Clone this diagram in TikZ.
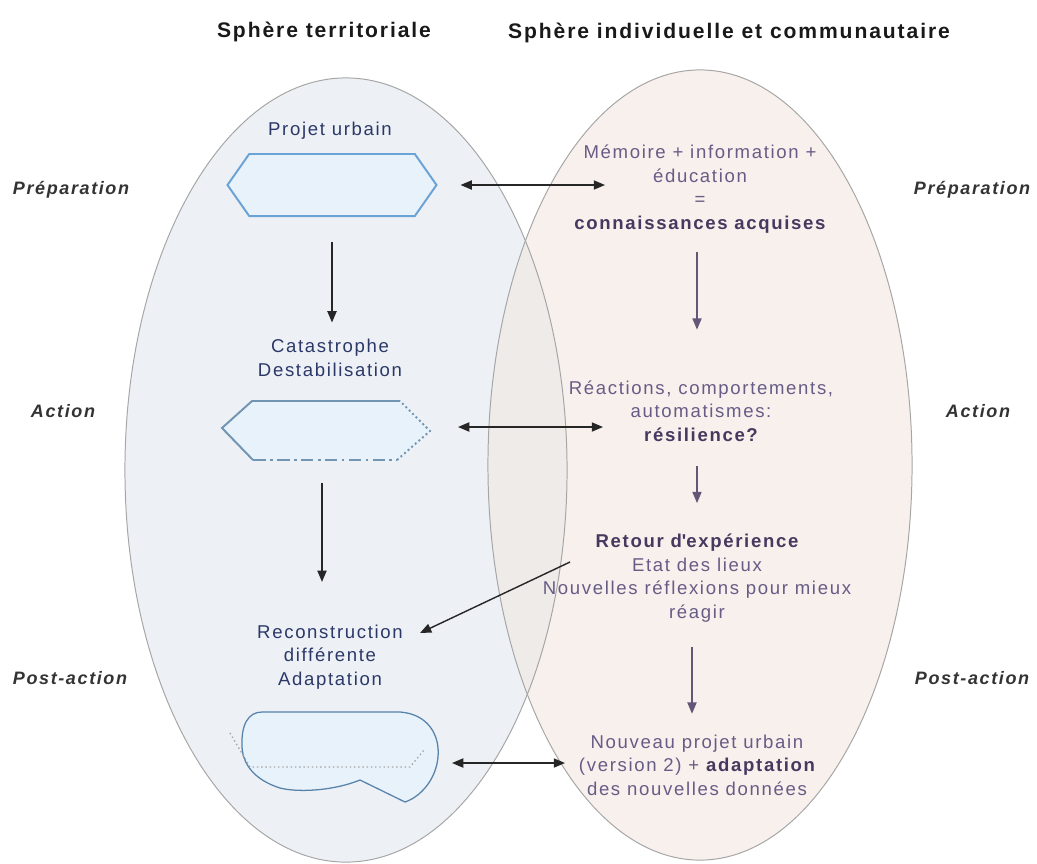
\documentclass[tikz,border=0pt]{standalone}
\usepackage{fontspec}
\setmainfont{Liberation Sans}[LetterSpace=9]
\usetikzlibrary{positioning,shapes.symbols,arrows.meta}
\definecolor{terrText}{HTML}{2B3868}
\definecolor{commText}{HTML}{675C86}
\definecolor{commBold}{HTML}{46395F}
\definecolor{leftFill}{HTML}{EDF1F5}
\definecolor{rightFill}{HTML}{F8F0EC}
\definecolor{midFill}{HTML}{EEEBE9}
\definecolor{hexLine}{HTML}{6BA3D6}
\definecolor{hexFill}{HTML}{E8F2FA}
\definecolor{phaseText}{HTML}{333333}
\tikzset{
  sphere/.style={draw=gray!70,line width=0.7pt},
  lefttxt/.style={text=terrText,align=center,font=\fontsize{13.2}{16.7}\selectfont},
  righttxt/.style={text=commText,align=center,font=\fontsize{13.2}{16.7}\selectfont},
  phase/.style={text=phaseText,font=\fontsize{12.8}{15}\selectfont\bfseries\itshape},
  title/.style={text=black!90,font=\fontsize{15}{18}\selectfont\bfseries},
  hexbox/.style={shape=signal,signal to=east and west,signal pointer angle=110,
    draw=hexLine,fill=hexFill,line width=1.4pt,inner sep=0pt},
  link/.style={->,black!85,line width=1pt},
  dlink/.style={<->,black!85,line width=1pt},
  plink/.style={->,commBold!85,line width=1pt}
}
\newcommand{\cb}[1]{\textcolor{commBold}{\bfseries #1}}

\begin{document}
\begin{tikzpicture}[x=0.025cm,y=-0.025cm,>={Triangle[length=8pt,width=6.5pt]}]
  \useasboundingbox (0,0) rectangle (1037,863);
  % the two spheres and their overlap
  \fill[leftFill] (346,470) ellipse [x radius=5.525cm,y radius=9.8cm];
  \fill[rightFill] (700,465) ellipse [x radius=5.3cm,y radius=9.875cm];
  \begin{scope}
    \clip (346,470) ellipse [x radius=5.525cm,y radius=9.8cm];
    \fill[midFill] (700,465) ellipse [x radius=5.3cm,y radius=9.875cm];
  \end{scope}
  \draw[sphere] (346,470) ellipse [x radius=5.525cm,y radius=9.8cm];
  \draw[sphere] (700,465) ellipse [x radius=5.3cm,y radius=9.875cm];

  \node[title] (tTerr) at (324,32) {Sphère territoriale};
  \node[title] (tComm) at (729,33) {Sphère individuelle et communautaire};

  % phases, both sides
  \node[phase] (pPrepL) at (71,190) {Préparation};
  \node[phase] (pActL)  at (63,411) {Action};
  \node[phase] (pPostL) at (70,678) {Post-action};
  \node[phase] (pPrepR) at (972,190) {Préparation};
  \node[phase] (pActR)  at (978,411) {Action};
  \node[phase] (pPostR) at (972,678) {Post-action};

  % territorial column
  \node[lefttxt] (projet) at (330,131) {Projet urbain};
  \node[hexbox,minimum width=5.225cm,minimum height=1.55cm] (hexA) at (332,185) {};
  \node[lefttxt] (cata) at (330,358) {Catastrophe\\Destabilisation};
  \coordinate (hexBE) at (430,427);
  \fill[hexFill] (252,401) -- (400,401) -- (430,431)
    -- (397,460) -- (253,460) -- (222,428) -- cycle;
  \draw[hexLine!60!gray,line width=1.4pt] (400,401) -- (252,401) -- (222,428) -- (253,460);
  \draw[hexLine!60!gray,line width=1.4pt,dash pattern=on 9pt off 3pt on 2pt off 3pt]
    (253,460) -- (397,460);
  \draw[hexLine!60!gray,line width=1.4pt,dotted] (397,460) -- (430,431) -- (400,401);
  \node[lefttxt] (recon) at (330,657) {Reconstruction\\différente\\Adaptation};
  \fill[hexFill] (262,712) -- (400,712) .. controls (428,714) and (440,735) .. (438,757)
    .. controls (436,780) and (420,797) .. (405,802) -- (360,780)
    .. controls (330,792) and (295,792) .. (280,788)
    .. controls (255,780) and (243,765) .. (242,747)
    .. controls (241,725) and (248,712) .. (262,712) -- cycle;
  \draw[hexLine!80!black,line width=0.9pt] (262,712) -- (400,712) .. controls (428,714) and (440,735) .. (438,757)
    .. controls (436,780) and (420,797) .. (405,802) -- (360,780)
    .. controls (330,792) and (295,792) .. (280,788)
    .. controls (255,780) and (243,765) .. (242,747)
    .. controls (241,725) and (248,712) .. (262,712) -- cycle;
  \draw[gray!70,line width=1pt,dotted] (230,733) -- (250,767) -- (410,767) -- (424,750);
  \coordinate (blobE) at (438,763);

  % community column
  \node[righttxt] (memo) at (700,189)
    {Mémoire + information +\\éducation\\=\\\cb{connaissances acquises}};
  \node[righttxt] (reac) at (701,411)
    {Réactions, comportements,\\automatismes:\\\cb{résilience?}};
  \node[righttxt] (retour) at (697,578)
    {\cb{Retour d\textquotesingle expérience}\\Etat des lieux\\Nouvelles réflexions pour mieux\\réagir};
  \node[righttxt] (nouveau) at (697,765)
    {Nouveau projet urbain\\(version 2) + \cb{adaptation}\\des nouvelles données};

  % links
  \coordinate (memoL) at (605,185);
  \coordinate (reacL) at (603,427);
  \coordinate (nouvL) at (565,763);
  \coordinate (retourL) at (570,562);
  \coordinate (reconR) at (420,633);
  \draw[dlink,shorten <=0.57cm] (hexA.east) -- (memoL);
  \draw[dlink,shorten <=0.7cm] (hexBE) -- (reacL);
  \draw[dlink,shorten <=0.35cm] (blobE) -- (nouvL);
  \draw[link] (retourL) -- (reconR);
  \draw[link,shorten <=0.62cm,shorten >=0.3cm] (hexA.south) -- (hexA.south |- cata.north);
  \draw[link,shorten <=0.57cm,shorten >=0.95cm] (322,460) -- (recon.north -| 322,0);
  \draw[plink,shorten <=0.35cm,shorten >=1.15cm] (memo.south -| 697,0) -- (reac.north -| 697,0);
  \draw[plink,shorten <=0.5cm,shorten >=0.65cm] (reac.south -| 697,0) -- (retour.north);
  \draw[plink,shorten <=0.5cm,shorten >=0.4cm] (retour.south -| 692,0) -- (nouveau.north -| 692,0);
\end{tikzpicture}
\end{document}
